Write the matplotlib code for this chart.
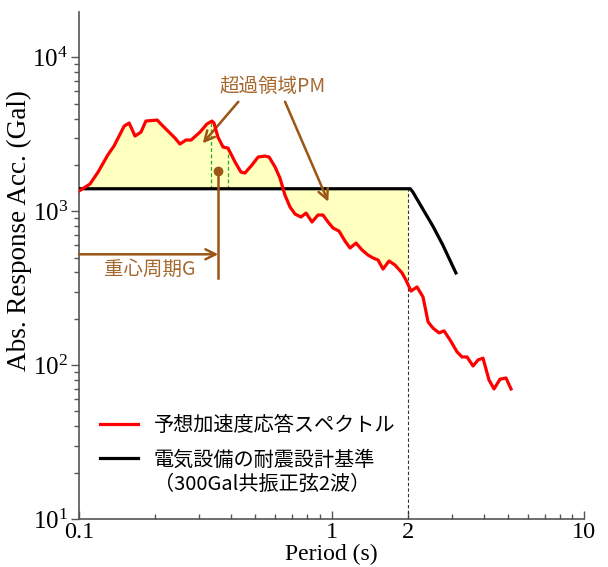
import numpy as np
import matplotlib
matplotlib.use("Agg")
import matplotlib.pyplot as plt
from matplotlib.ticker import FixedLocator, LogLocator, LogFormatterMathtext, NullFormatter
from matplotlib.lines import Line2D

# ---------------- data ----------------
period = [0.1, 0.1105, 0.119, 0.130, 0.1376, 0.151, 0.158, 0.1667, 0.176, 0.184,
          0.204, 0.213, 0.240, 0.251, 0.265, 0.278, 0.3015, 0.321, 0.336, 0.3425,
          0.355, 0.372, 0.389, 0.415, 0.438, 0.454, 0.484, 0.512, 0.545, 0.566,
          0.598, 0.625, 0.654, 0.685, 0.717, 0.757, 0.793, 0.837, 0.884, 0.925,
          0.969, 1.014, 1.071, 1.131, 1.184, 1.251, 1.321, 1.395, 1.460, 1.529,
          1.600, 1.690, 1.785, 1.903, 1.972, 2.065, 2.181, 2.304, 2.412, 2.523,
          2.666, 2.790, 2.946, 3.141, 3.288, 3.441, 3.635, 3.805, 3.981, 4.206,
          4.402, 4.648, 4.911, 5.140]
resp_acc = [1353, 1502, 1797, 2319, 2653, 3578, 3742, 3081, 3270, 3856,
            3914, 3632, 2990, 2733, 2902, 2902, 3270, 3687, 3856, 3742,
            3035, 2613, 2574, 2088, 1797, 1771, 1996, 2250, 2284, 2250,
            1937, 1643, 1274, 1065, 959, 917, 973, 851, 945, 945,
            851, 778, 743, 640, 577, 621, 560, 519, 497, 482,
            421, 475, 447, 397, 357, 303, 322, 277, 191, 174,
            162, 167, 146, 122, 113, 113, 98.7, 108, 111, 80,
            70, 81, 82.5, 70]

std_period = [0.1, 2.05, 2.1, 2.3, 2.52, 2.76, 3.11]
std_acc = [1400, 1400, 1333, 1033, 801, 603, 397]

fill_end = 2.0              # end of exceedance-area evaluation
centroid_period = 0.356     # 重心周期G
centroid_acc = 1824
green_periods = [0.332, 0.388]

xtick_vals = [0.1, 1, 2, 10]
xtick_labels = ['0.1', '1', '2', '10']

label_red = '予想加速度応答スペクトル'
label_black = '電気設備の耐震設計基準\n（300Gal共振正弦2波）'

# ---------------- style ----------------
plt.rcParams['mathtext.fontset'] = 'custom'
plt.rcParams['mathtext.rm'] = 'Liberation Serif'
plt.rcParams['mathtext.it'] = 'Liberation Serif:italic'
serif = 'Liberation Serif'
cjk = ['Noto Sans CJK JP', 'DejaVu Sans']
brown_txt = '#a5682e'
brown_arr = '#9b5515'

fig = plt.figure(figsize=(6.08, 5.67), dpi=100)
ax = fig.add_axes([79/608, 1-519/567, (584-79)/608, (519-11.7)/567])
ax.set_xscale('log')
ax.set_yscale('log')
ax.set_xlim(0.1, 10)
ax.set_ylim(10, 19800)

lp = np.log10(period)
la = np.log10(resp_acc)
lsp = np.log10(std_period)
lsa = np.log10(std_acc)

# fill between response spectrum and standard up to fill_end
mask = np.array(period) < fill_end
fx = np.append(np.array(period)[mask], fill_end)
fy_red = 10 ** np.interp(np.log10(fx), lp, la)
fy_std = 10 ** np.interp(np.log10(fx), lsp, lsa)
ax.fill_between(fx, fy_red, fy_std, color='#ffffc0', lw=0, zorder=1)

# vertical dashed line at fill_end
std_at_end = 10 ** np.interp(np.log10(fill_end), lsp, lsa)
ax.plot([fill_end, fill_end], [10, std_at_end], ls=(0, (3, 2)), color='#333333', lw=0.8, zorder=2)

# green dashed lines
for gp in green_periods:
    top = 10 ** np.interp(np.log10(gp), lp, la)
    bot = 10 ** np.interp(np.log10(gp), lsp, lsa)
    ax.plot([gp, gp], [bot, top], ls=(0, (3, 2)), color='#22aa22', lw=0.9, zorder=2)

ax.plot(std_period, std_acc, color='black', lw=2.3, solid_joinstyle='round', zorder=3)
ax.plot(period, resp_acc, color='#ff0000', lw=2.3, solid_joinstyle='round', zorder=4)

# centroid marker
ax.plot([centroid_period, centroid_period], [368, centroid_acc], color=brown_arr, lw=1.8, zorder=5)
ax.plot([centroid_period], [centroid_acc], 'o', color=brown_arr, ms=6, zorder=5)
ax.annotate('', xy=(centroid_period, 525), xytext=(0.1, 525),
            arrowprops=dict(arrowstyle='->', color=brown_arr, lw=1.8, mutation_scale=18,
                            shrinkA=0, shrinkB=0), zorder=5)
ax.text(0.190, 418, '重心周期G', family=cjk, fontsize=14, color=brown_txt,
        ha='center', va='center')

# exceedance area annotation
ax.text(0.587, 6457, '超過領域PM', family=cjk, fontsize=14, color=brown_txt,
        ha='center', va='center')
ax.annotate('', xy=(0.309, 2761), xytext=(0.4276, 5147),
            arrowprops=dict(arrowstyle='->', color=brown_arr, lw=1.8, mutation_scale=18,
                            shrinkA=0, shrinkB=0))
ax.annotate('', xy=(0.971, 1152), xytext=(0.6546, 5147),
            arrowprops=dict(arrowstyle='->', color=brown_arr, lw=1.8, mutation_scale=18,
                            shrinkA=0, shrinkB=0))

# axes styling
for s in ['top', 'right']:
    ax.spines[s].set_visible(False)
for s in ['left', 'bottom']:
    ax.spines[s].set_color('#555555')
    ax.spines[s].set_linewidth(1.2)

ax.xaxis.set_major_locator(FixedLocator(xtick_vals))
ax.set_xticklabels(xtick_labels)
ax.xaxis.set_minor_locator(LogLocator(base=10, subs=np.arange(2, 10)))
ax.xaxis.set_minor_formatter(NullFormatter())
ax.yaxis.set_major_locator(LogLocator(base=10, numticks=10))
ax.yaxis.set_major_formatter(LogFormatterMathtext())
ax.yaxis.set_minor_locator(LogLocator(base=10, subs=np.arange(2, 10), numticks=20))
ax.yaxis.set_minor_formatter(NullFormatter())

ax.tick_params(axis='x', which='major', direction='in', length=6, width=1, color='#555555', pad=2.5)
ax.tick_params(axis='x', which='minor', direction='in', length=3.5, width=1, color='#555555')
ax.tick_params(axis='y', which='major', direction='out', length=6, width=1, color='#555555', pad=2)
ax.tick_params(axis='y', which='minor', direction='out', length=3.5, width=1, color='#555555')
for lab in ax.get_xticklabels():
    lab.set_family(serif)
    lab.set_fontsize(17.5)
for lab in ax.get_yticklabels():
    lab.set_family(serif)
    lab.set_fontsize(18)

ax.set_xlabel('Period (s)', family=serif, fontsize=17, va='top')
ax.xaxis.set_label_coords(0.5, -0.05)
ax.set_ylabel('Abs. Response Acc. (Gal)', family=serif, fontsize=19.5)
ax.yaxis.set_label_coords(-0.093, 0.568)

handles = [Line2D([], [], color='#ff0000', lw=2.3),
           Line2D([], [], color='black', lw=2.3)]
leg = ax.legend(handles, [label_red, label_black], loc='upper left',
                bbox_to_anchor=(0.042, 0.205), frameon=False, borderpad=0, borderaxespad=0,
                handlelength=1.9, handletextpad=0.75, labelspacing=0.7,
                prop={'family': cjk, 'size': 14.5})
for t in leg.get_texts():
    t.set_linespacing(1.15)
# align the second handle with the first line of its two-line label
blk = leg.get_lines()[1]
blk.set_ydata(np.asarray(blk.get_ydata()) + 10.8)

fig.savefig('out.png', dpi=100)
